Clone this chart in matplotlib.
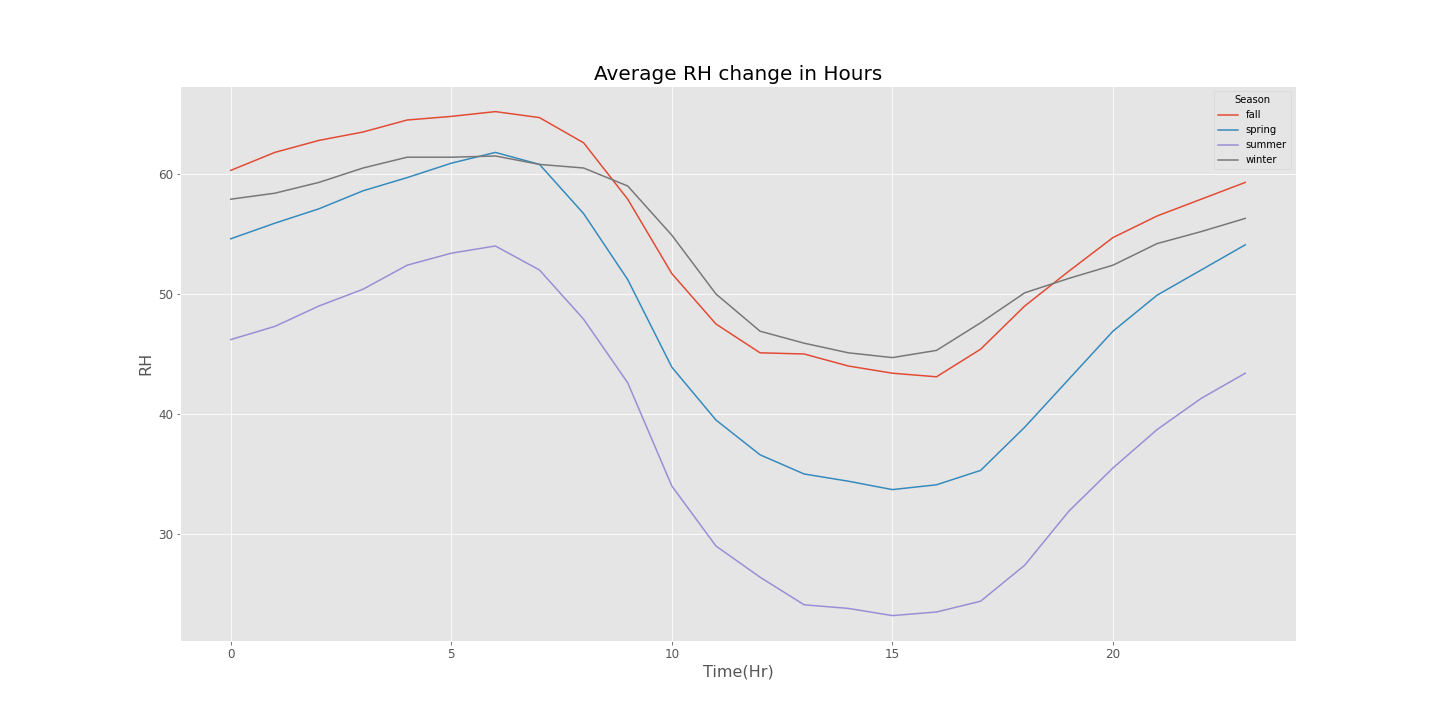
import matplotlib
matplotlib.use("Agg")
import matplotlib.pyplot as plt

plt.style.use("ggplot")

hours = list(range(24))
fall = [60.3, 61.8, 62.8, 63.5, 64.5, 64.8, 65.2, 64.7, 62.6, 57.9, 51.7, 47.5,
        45.1, 45.0, 44.0, 43.4, 43.1, 45.4, 49.0, 51.9, 54.7, 56.5, 57.9, 59.3]
spring = [54.6, 55.9, 57.1, 58.6, 59.7, 60.9, 61.8, 60.8, 56.7, 51.2, 43.9, 39.5,
          36.6, 35.0, 34.4, 33.7, 34.1, 35.3, 38.9, 42.9, 46.9, 49.9, 52.0, 54.1]
summer = [46.2, 47.3, 49.0, 50.4, 52.4, 53.4, 54.0, 52.0, 47.9, 42.6, 34.0, 29.0,
          26.4, 24.1, 23.8, 23.2, 23.5, 24.4, 27.4, 31.9, 35.5, 38.7, 41.3, 43.4]
winter = [57.9, 58.4, 59.3, 60.5, 61.4, 61.4, 61.5, 60.8, 60.5, 59.0, 54.9, 50.0,
          46.9, 45.9, 45.1, 44.7, 45.3, 47.6, 50.1, 51.3, 52.4, 54.2, 55.2, 56.3]

fig, ax = plt.subplots(figsize=(20, 10), dpi=72)
ax.plot(hours, fall, label="fall")
ax.plot(hours, spring, label="spring")
ax.plot(hours, summer, label="summer")
ax.plot(hours, winter, label="winter")

ax.set_title("Average RH change in Hours", fontsize=20)
ax.set_xlabel("Time(Hr)", fontsize=16)
ax.set_ylabel("RH", fontsize=16)
ax.tick_params(labelsize=12)
ax.legend(title="Season")

plt.savefig("out.png", dpi=72)
